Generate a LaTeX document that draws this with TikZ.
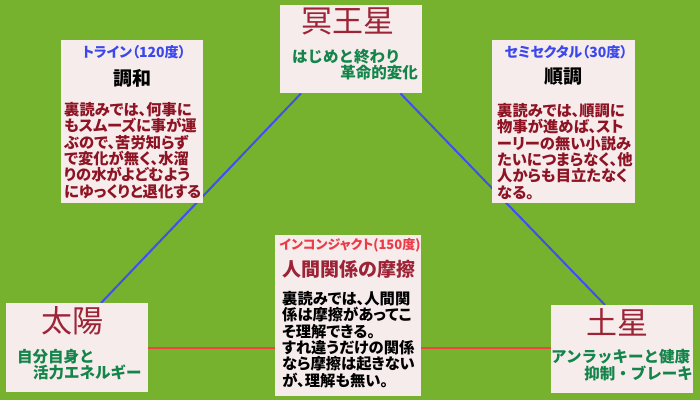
\documentclass[tikz,border=0pt]{standalone}
\usepackage{fontspec}
\setmainfont{Noto Sans CJK JP}
\newfontfamily\paltfont{Noto Sans CJK JP}[RawFeature=+palt]
\usetikzlibrary{calc,backgrounds}
\definecolor{bggreen}{HTML}{76B22E}
\definecolor{cardpink}{HTML}{F7ECEC}
\definecolor{titlered}{HTML}{9C2436}
\definecolor{kwgreen}{HTML}{13844A}
\definecolor{aspblue}{HTML}{3A48EC}
\definecolor{bodyred}{HTML}{8E1424}
\definecolor{aspred}{HTML}{EC3A46}
\definecolor{lineblue}{HTML}{4050F0}
\definecolor{linered}{HTML}{F04444}

\begin{document}
\begin{tikzpicture}[x=1pt,y=-1pt,
  card/.style={fill=cardpink,anchor=north west,inner sep=0pt},
  planet/.style={font=\fontsize{31}{33}\selectfont,text=titlered,inner sep=0pt},
  keyword/.style={font=\bfseries\fontsize{15.5}{17}\selectfont,text=kwgreen,inner sep=0pt},
  aspect/.style={font=\paltfont\bfseries\fontsize{14}{16}\selectfont,inner sep=0pt},
  theme/.style={font=\bfseries\fontsize{19}{21}\selectfont,inner sep=0pt},
  body/.style={font=\paltfont\bfseries\fontsize{15.3}{16.4}\selectfont,align=left,anchor=north west,inner sep=0pt,text=bodyred}]
  % Planets
  \node[card,minimum width=142pt,minimum height=88pt] (pluto) at (280,5) {};
  \node[planet] (plutoname) at (348,21) {冥王星};
  \node[keyword,anchor=west] (plutokw1) at (292,57) {はじめと終わり};
  \node[keyword,anchor=east] (plutokw2) at (418,73) {革命的変化};

  \node[card,minimum width=142pt,minimum height=89pt] (sun) at (6,303) {};
  \node[planet] (sunname) at (72,321) {太陽};
  \node[keyword,anchor=west] (sunkw1) at (17,357) {自分自身と};
  \node[keyword,anchor=west] (sunkw2) at (33,372) {活力エネルギー};

  \node[card,minimum width=142pt,minimum height=88pt] (saturn) at (551,305) {};
  \begin{scope}
    \clip (saturn.north west) rectangle (saturn.south east);
    \node[planet] (saturnname) at (617,322) {土星};
    \node[keyword,anchor=west] (saturnkw1) at (551,357) {アンラッキーと健康};
    \node[keyword,anchor=east] (saturnkw2) at (693,373) {抑制・ブレーキ};
  \end{scope}

  % Aspects
  \node[card,minimum width=142pt,minimum height=163pt] (trine) at (61,40) {};
  \node[aspect,text=aspblue] (trinename) at (134,52) {トライン（120度）};
  \node[theme] (trinetheme) at (132,78) {調和};
  \node[body] (trinebody) at (64,102) {裏読みでは、何事に\\もスムーズに事が運\\ぶので、苦労知らず\\で変化が無く、水溜\\りの水がよどむよう\\にゆっくりと退化する};

  \node[card,minimum width=143pt,minimum height=163pt] (semisextile) at (492,40) {};
  \node[aspect,text=aspblue] (semisextilename) at (566,52) {セミセクタル（30度）};
  \node[theme] (semisextiletheme) at (563,77) {順調};
  \node[body] (semisextilebody) at (497,103) {裏読みでは、順調に\\物事が進めば、スト\\ーリーの無い小説み\\たいにつまらなく、他\\人からも目立たなく\\なる。};

  \node[card,minimum width=146pt,minimum height=161pt] (inconjunct) at (275,235) {};
  \node[aspect,text=aspred,font=\paltfont\bfseries\fontsize{13}{15}\selectfont] (inconjunctname) at (350,245) {インコンジャクト(150度)};
  \node[theme,text=titlered] (inconjuncttheme) at (349,269) {人間関係の摩擦};
  \node[body,text=black] (inconjunctbody) at (282,291) {裏読みでは、人間関\\係は摩擦があってこ\\そ理解できる。\\すれ違うだけの関係\\なら摩擦は起きない\\が、理解も無い。};

  \begin{scope}[on background layer]
    \fill[bggreen] (0,0) rectangle (700,400);
    \draw[lineblue,line width=2pt] ($(sun.north west)+(95,0)$) -- ($(pluto.south west)+(21,0)$);
    \draw[lineblue,line width=2pt] ($(pluto.south east)+(-22,0)$) -- ($(saturn.north west)+(54,0)$);
    \draw[linered,line width=2pt] (sun.east) -- (sun.east -| saturn.west);
  \end{scope}
  \useasboundingbox (0,0) rectangle (700,400);
\end{tikzpicture}
\end{document}
